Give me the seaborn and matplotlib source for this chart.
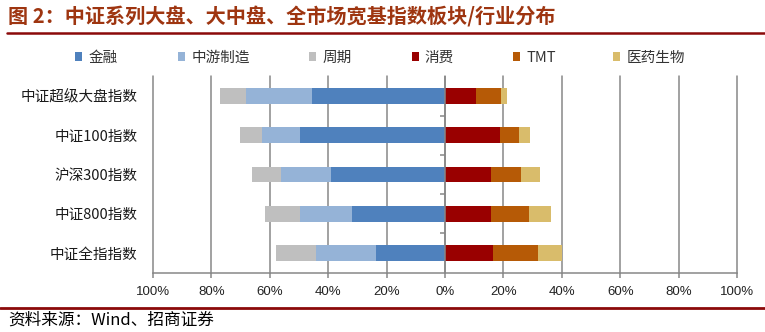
import numpy as np
import pandas as pd
import matplotlib
matplotlib.use("Agg")
import matplotlib.pyplot as plt
import seaborn as sns
from matplotlib.patches import Patch
from matplotlib.lines import Line2D

# Sector weights (%) of each broad-based CSI index
indices = ["中证超级大盘指数", "中证100指数", "沪深300指数", "中证800指数", "中证全指指数"]
finance = [45.4, 49.6, 39.2, 31.9, 23.5]
midstream = [22.6, 13.2, 16.8, 17.8, 20.7]
cyclical = [9.0, 7.4, 10.0, 12.1, 13.8]
consumer = [10.5, 19.0, 15.7, 15.7, 16.4]
tmt = [8.8, 6.2, 10.2, 12.9, 15.3]
pharma = [1.8, 3.8, 6.6, 7.7, 8.2]

left_names = ["金融", "中游制造", "周期"]
right_names = ["消费", "TMT", "医药生物"]
xticks = [-1.0, -0.8, -0.6, -0.4, -0.2, 0.0, 0.2, 0.4, 0.6, 0.8, 1.0]
xtick_labels = ["100%", "80%", "60%", "40%", "20%", "0%", "20%", "40%", "60%", "80%", "100%"]

palette = {
    "金融": "#4F81BD",
    "中游制造": "#95B3D7",
    "周期": "#BFBFBF",
    "消费": "#990000",
    "TMT": "#B65A06",
    "医药生物": "#D9BC6B",
}

sns.set_theme(style="white")
plt.rcParams["font.family"] = ["Noto Sans CJK SC", "DejaVu Sans"]

fig = plt.figure(figsize=(7.65, 3.32), dpi=100)
ax = fig.add_axes([153 / 765, 1 - 272.6 / 332, 584 / 765, 196.2 / 332])

grid_color = "#878787"


def draw_side(names, series, sign):
    """Stack one side of the diverging bars by overlaying cumulative totals."""
    cum = np.cumsum(np.array(series, dtype=float), axis=0)
    for name, totals in reversed(list(zip(names, cum))):
        df = pd.DataFrame({"指数": indices, "占比": sign * totals / 100.0})
        sns.barplot(data=df, y="指数", x="占比", orient="h", color=palette[name],
                    saturation=1, width=0.4, linewidth=0, ax=ax, zorder=2)


draw_side(left_names, [finance, midstream, cyclical], -1)
draw_side(right_names, [consumer, tmt, pharma], 1)

ax.set_xlim(-1.0, 1.0)
ax.set_ylim(4.5, -0.5)
ax.set_xlabel("")
ax.set_ylabel("")

# vertical gridlines behind the bars, zero axis on top
ax.set_axisbelow(True)
ax.set_xticks(xticks)
ax.set_xticklabels(xtick_labels, family=["Liberation Sans"], fontsize=9.5, color="#222222")
for x in xticks:
    ax.axvline(x, color=grid_color, lw=1.1, zorder=0.5, clip_on=False)
ax.axvline(0, color=grid_color, lw=1.1, zorder=5)
ax.hlines([0.5, 1.5, 2.5, 3.5], -0.017, 0, color=grid_color, lw=1.1, zorder=5)

ax.tick_params(axis="x", direction="out", length=3.5, width=1.1, color=grid_color, pad=6,
               bottom=True)
ax.tick_params(axis="y", length=0, pad=11, labelsize=10.5, labelcolor="#1a1a1a")

for side in ["top", "left", "right"]:
    ax.spines[side].set_visible(False)
ax.spines["bottom"].set_color(grid_color)
ax.spines["bottom"].set_linewidth(1.1)

# legend entries across the top, one per sector
legend_x = [75, 178, 309, 411.5, 513, 613]
for name, lx in zip(left_names + right_names, legend_x):
    fig.legend(handles=[Patch(facecolor=palette[name], edgecolor="none", label=name)],
               frameon=False, loc="center left",
               bbox_to_anchor=(lx / 765, 1 - 57.7 / 332), borderpad=0, borderaxespad=0,
               handlelength=0.5, handleheight=0.5, handletextpad=0.4,
               prop={"size": 10.5}, labelcolor="#333333")

# header, footer and rules
title_color = "#9E3510"
rule_color = "#8B0A0A"
fig.text(8 / 765, 1 - 17 / 332, "图 2：中证系列大盘、大中盘、全市场宽基指数板块/行业分布",
         fontsize=14.5, fontweight="bold", color=title_color, va="center", ha="left")
fig.add_artist(Line2D([7 / 765, 1.0], [1 - 33.3 / 332] * 2, color=rule_color, lw=1.8))
fig.add_artist(Line2D([0.0, 1.0], [1 - 307.7 / 332] * 2, color=rule_color, lw=2.0))
fig.text(8 / 765, 1 - 320 / 332, "资料来源：Wind、招商证券", fontsize=12,
         color="#000000", va="center", ha="left")

fig.savefig("out.png", dpi=100)
